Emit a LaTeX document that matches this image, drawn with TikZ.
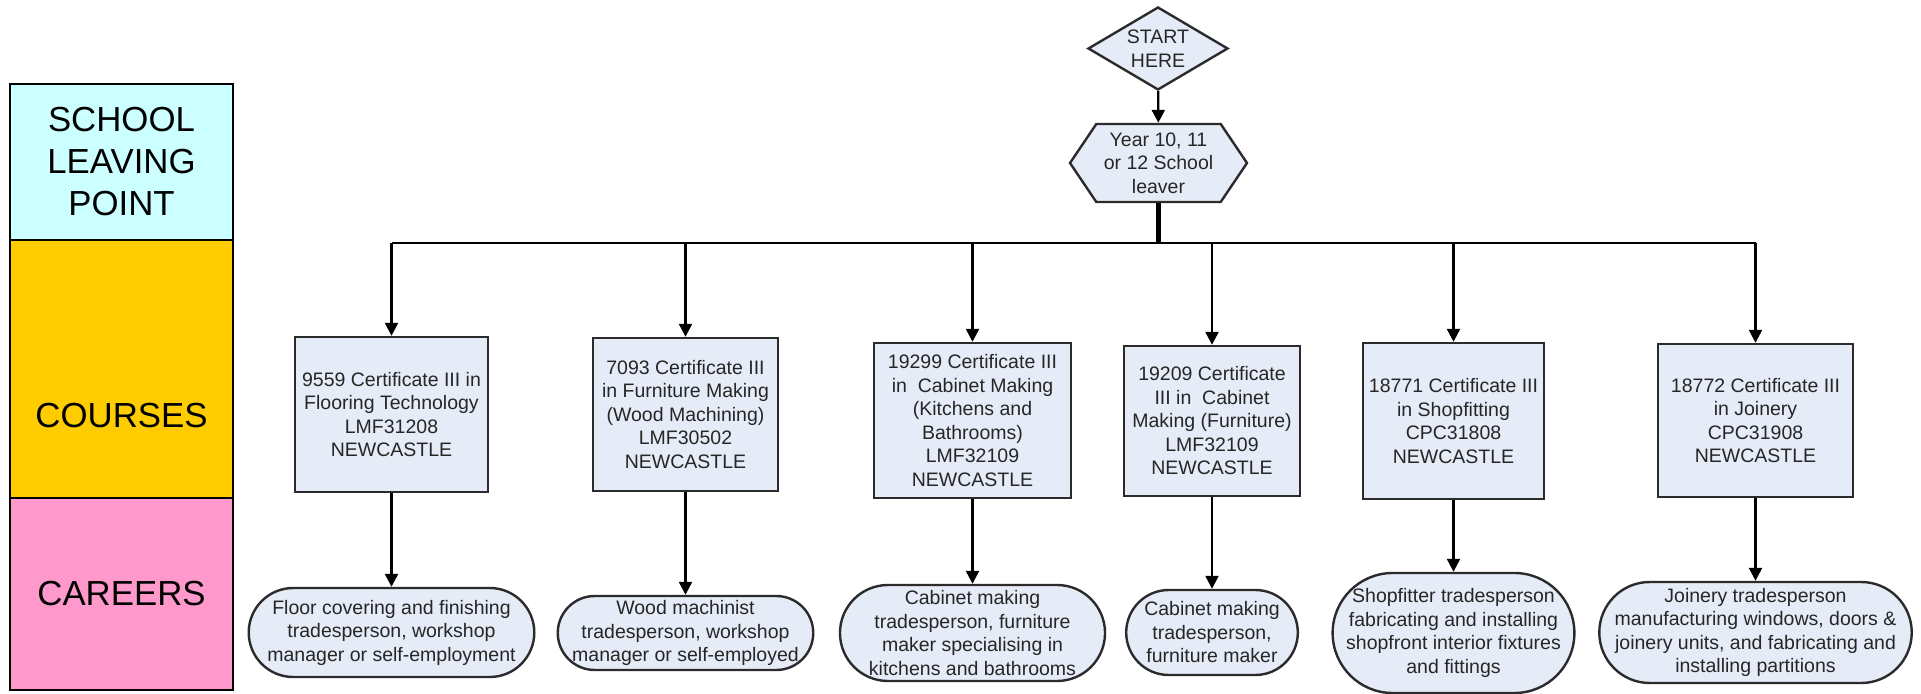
\documentclass[tikz,border=0pt]{standalone}
\usepackage{fontspec}
\setmainfont{Liberation Sans}
\usetikzlibrary{shapes.geometric,shapes.misc,shapes.symbols,arrows.meta,calc}
\definecolor{pathStep}{HTML}{E6ECF7}
\definecolor{pathEdge}{HTML}{2B2B2B}
\definecolor{pathText}{HTML}{262626}
\definecolor{laneSchool}{HTML}{CCFFFF}
\definecolor{laneCourse}{HTML}{FFCC00}
\definecolor{laneCareer}{HTML}{FF99CC}
\tikzset{
  lane/.style={draw=black,line width=1pt,minimum width=111.5pt,inner sep=0pt,
               align=center,font=\fontsize{17.4}{21}\selectfont},
  lanelbl/.style={inner sep=0pt,align=center,font=\fontsize{17.4}{21}\selectfont},
  pstep/.style={draw=pathEdge,line width=1.2pt,fill=pathStep,text=pathText,
                align=center,inner sep=2pt,font=\fontsize{9.75}{11.75}\selectfont},
  pcourse/.style={pstep,rectangle},
  pcareer/.style={pstep,rounded rectangle,inner ysep=0pt},
  pstart/.style={pstep,diamond,aspect=1.69,inner sep=0pt,minimum width=70pt,minimum height=41.5pt},
  pleaver/.style={pstep,signal,signal to=east and west,signal pointer angle=112,
                  inner sep=0pt,minimum width=88.5pt,minimum height=39pt},
  pflow/.style={-{Triangle[width=6.5pt,length=6.5pt]},draw=black,line width=1.2pt},
  ptrunk/.style={draw=black,line width=2.2pt},
}

\begin{document}
\begin{tikzpicture}[x=0.5pt,y=-0.5pt]
  \useasboundingbox (0,0) rectangle (1921,694);

  % stage column on the left
  \node[lane,fill=laneSchool,minimum height=78pt]  (school) at (121.5,162) {SCHOOL\\LEAVING\\POINT};
  \node[lane,fill=laneCourse,minimum height=129pt] (courses) at (121.5,369) {};
  \node[lane,fill=laneCareer,minimum height=96pt]  (careers) at (121.5,594) {CAREERS};
  \node[lanelbl] (coursesLbl) at (121.5,416) {COURSES};

  \node[pstart]  (start)  at (1158,48.5) {START\\HERE};
  \node[pleaver] (leaver) at (1158.5,163) {Year 10, 11\\or 12 School\\leaver};
  \coordinate (split) at (1158.5,243);

  \node[pcourse,minimum width=96.5pt,minimum height=77.5pt] (c1) at (391.5,414.5)
    {9559 Certificate III in\\Flooring Technology\\LMF31208\\NEWCASTLE};
  \node[pcourse,minimum width=92.5pt,minimum height=76.5pt] (c2) at (685.5,414.5)
    {7093 Certificate III\\in Furniture Making\\(Wood Machining)\\LMF30502\\NEWCASTLE};
  \node[pcourse,minimum width=98.5pt,minimum height=77.5pt] (c3) at (972.5,420.5)
    {19299 Certificate III\\in\ \ Cabinet Making\\(Kitchens and\\Bathrooms)\\LMF32109\\NEWCASTLE};
  \node[pcourse,minimum width=88pt,minimum height=75pt] (c4) at (1212,421)
    {19209 Certificate\\III in\ \ Cabinet\\Making (Furniture)\\LMF32109\\NEWCASTLE};
  \node[pcourse,minimum width=90.5pt,minimum height=78pt] (c5) at (1453.5,421)
    {18771 Certificate III\\in Shopfitting\\CPC31808\\NEWCASTLE};
  \node[pcourse,minimum width=97.5pt,minimum height=76.5pt] (c6) at (1755.5,420.5)
    {18772 Certificate III\\in Joinery\\CPC31908\\NEWCASTLE};

  \node[pcareer,minimum height=44.5pt,inner xsep=2.25pt] (r1) at (391.5,632.5)
    {Floor covering and finishing\\tradesperson, workshop\\manager or self-employment};
  \node[pcareer,minimum height=37pt,inner xsep=-2.5pt] (r2) at (685.5,633)
    {Wood machinist\\tradesperson, workshop\\manager or self-employed};
  \node[pcareer,minimum height=48pt,inner xsep=1.75pt] (r3) at (972.5,633)
    {Cabinet making\\tradesperson, furniture\\maker specialising in\\kitchens and bathrooms};
  \node[pcareer,minimum height=42.5pt,inner xsep=2.5pt] (r4) at (1212,632.5)
    {Cabinet making\\tradesperson,\\furniture maker};
  \node[pcareer,minimum height=60pt,inner xsep=-3pt] (r5) at (1453.5,633)
    {Shopfitter tradesperson\\fabricating and installing\\shopfront interior fixtures\\and fittings};
  \node[pcareer,minimum height=50.5pt,inner xsep=-5.5pt] (r6) at (1755.5,632.5)
    {Joinery tradesperson\\manufacturing windows, doors \&\\joinery units, and fabricating and\\installing partitions};

  \draw[pflow] (start) -- (leaver);
  \draw[ptrunk] (leaver.south) -- (split);
  \draw[pflow,-] (split -| c1) -- (split -| c6);
  \foreach \i in {1,...,6}{
    \draw[pflow] (split -| c\i) -- (c\i.north);
    \draw[pflow] (c\i.south) -- (r\i.north);
  }
\end{tikzpicture}
\end{document}
